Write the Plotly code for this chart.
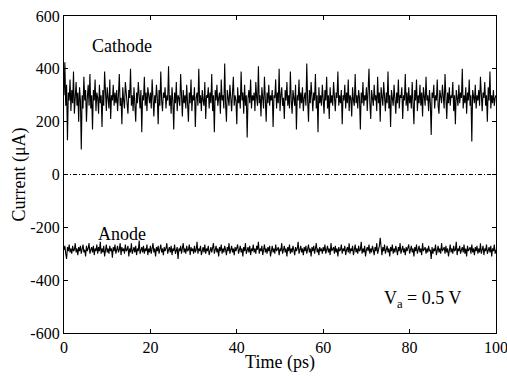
import plotly.graph_objects as go

cathode = [
    300, 425, 260, 340, 130, 310, 280, 360, 240, 320, 270, 390, 230, 300, 350, 260, 310, 200, 330, 280,
    95, 300, 250, 370, 280, 320, 200, 290, 340, 260, 380, 250, 300, 170, 320, 280, 360, 240, 310, 290,
    230, 340, 270, 300, 180, 320, 260, 390, 280, 240, 330, 290, 250, 360, 210, 300, 280, 340, 260, 310,
    270, 320, 240, 300, 380, 260, 290, 190, 330, 280, 250, 350, 300, 270, 230, 320, 290, 400, 260, 300,
    240, 330, 280, 200, 310, 270, 350, 290, 250, 320, 160, 300, 280, 370, 260, 310, 240, 330, 290, 270,
    310, 250, 360, 280, 220, 300, 270, 340, 290, 190, 320, 260, 390, 280, 240, 310, 290, 330, 250, 300,
    280, 410, 260, 300, 230, 330, 280, 170, 310, 270, 350, 240, 300, 290, 260, 380, 280, 220, 320, 270,
    300, 250, 340, 290, 200, 310, 270, 360, 240, 300, 280, 330, 180, 290, 310, 260, 400, 270, 300, 240,
    320, 280, 260, 350, 210, 300, 290, 330, 250, 310, 270, 380, 240, 300, 160, 320, 280, 340, 260, 290,
    310, 230, 360, 280, 300, 250, 420, 270, 200, 320, 290, 260, 340, 280, 240, 310, 370, 260, 300, 280,
    190, 330, 270, 300, 250, 390, 280, 310, 230, 340, 260, 300, 140, 290, 320, 270, 360, 250, 300, 280,
    310, 240, 350, 290, 260, 410, 270, 300, 220, 330, 280, 250, 370, 290, 200, 310, 270, 340, 260, 300,
    280, 320, 180, 300, 290, 360, 250, 310, 270, 400, 240, 300, 330, 260, 290, 210, 320, 280, 350, 260,
    300, 250, 390, 280, 230, 320, 290, 260, 340, 170, 300, 280, 360, 250, 310, 270, 330, 240, 290, 310,
    260, 420, 280, 200, 320, 270, 350, 290, 240, 310, 280, 380, 250, 300, 160, 330, 270, 300, 260, 340,
    290, 230, 320, 280, 370, 250, 300, 210, 330, 270, 300, 260, 350, 280, 240, 310, 290, 390, 260, 300,
    270, 320, 190, 300, 280, 340, 250, 310, 270, 360, 240, 300, 290, 220, 330, 280, 260, 380, 270, 300,
    250, 320, 290, 170, 310, 270, 350, 260, 300, 280, 330, 240, 300, 400, 270, 210, 320, 290, 260, 340,
    280, 300, 240, 370, 270, 310, 200, 330, 280, 260, 350, 290, 240, 310, 270, 390, 250, 300, 180, 320,
    290, 260, 340, 280, 230, 310, 270, 360, 250, 300, 290, 330, 210, 300, 280, 380, 260, 310, 240, 330,
    270, 300, 250, 350, 290, 190, 320, 280, 360, 240, 300, 270, 340, 260, 310, 220, 330, 290, 260, 370,
    280, 300, 240, 320, 270, 150, 310, 290, 340, 250, 300, 280, 360, 260, 230, 320, 290, 270, 340, 300,
    250, 380, 280, 210, 310, 270, 330, 260, 300, 290, 350, 240, 300, 190, 320, 280, 260, 340, 270, 310,
    290, 400, 250, 300, 270, 330, 230, 310, 280, 360, 260, 300, 125, 320, 290, 270, 340, 250, 300, 280,
    320, 260, 370, 280, 240, 310, 290, 350, 260, 300, 200, 330, 280, 390, 250, 300, 270, 320, 260, 290,
    300,
]

anode = [
    -285, -270, -300, -320, -275, -290, -265, -295, -280, -300, -270, -290, -285, -260, -295, -280, -305, -275, -290, -270,
    -300, -280, -265, -295, -285, -310, -270, -290, -280, -260, -300, -285, -275, -295, -270, -305, -280, -290, -265, -300,
    -275, -290, -255, -300, -280, -295, -270, -310, -285, -265, -295, -280, -300, -270, -290, -280, -315, -275, -290, -265,
    -300, -280, -270, -295, -285, -260, -305, -275, -290, -280, -300, -265, -290, -285, -270, -310, -280, -295, -260, -300,
    -285, -275, -295, -270, -305, -280, -290, -250, -300, -285, -275, -295, -270, -300, -280, -290, -265, -305, -280, -295,
    -270, -300, -285, -260, -295, -280, -310, -275, -290, -270, -300, -285, -265, -295, -280, -305, -275, -290, -280, -260,
    -300, -285, -275, -295, -270, -305, -280, -290, -265, -300, -285, -275, -320, -280, -290, -270, -300, -285, -260, -295,
    -280, -300, -270, -290, -285, -265, -305, -275, -290, -280, -300, -270, -295, -285, -255, -300, -280, -290, -270, -305,
    -285, -275, -295, -265, -300, -280, -290, -270, -305, -285, -275, -295, -280, -260, -300, -285, -270, -295, -280, -310,
    -275, -290, -265, -300, -280, -295, -270, -285, -305, -275, -290, -260, -300, -285, -270, -295, -280, -305, -275, -290,
    -280, -265, -300, -285, -270, -295, -280, -310, -275, -290, -260, -300, -285, -275, -295, -270, -305, -280, -290, -265,
    -295, -280, -300, -270, -285, -255, -300, -280, -290, -270, -305, -285, -265, -295, -280, -300, -275, -290, -270, -310,
    -285, -270, -295, -280, -300, -265, -290, -285, -275, -305, -280, -290, -260, -300, -285, -270, -295, -280, -310, -275,
    -290, -265, -300, -280, -295, -270, -285, -305, -275, -290, -280, -255, -300, -285, -270, -295, -280, -305, -275, -290,
    -270, -300, -285, -265, -295, -280, -310, -275, -290, -270, -300, -285, -260, -295, -280, -305, -275, -290, -280, -300,
    -275, -290, -265, -300, -285, -270, -295, -280, -305, -260, -290, -285, -275, -300, -270, -295, -280, -310, -275, -290,
    -285, -265, -300, -280, -290, -270, -305, -285, -275, -295, -260, -300, -280, -290, -270, -305, -285, -265, -295, -280,
    -300, -270, -290, -285, -255, -300, -280, -295, -270, -310, -285, -275, -290, -265, -300, -280, -295, -270, -285, -305,
    -275, -290, -260, -300, -285, -270, -240, -280, -305, -275, -290, -265, -300, -285, -270, -295, -280, -310, -275, -290,
    -265, -300, -280, -295, -270, -285, -305, -275, -290, -260, -300, -285, -270, -295, -280, -305, -275, -290, -280, -265,
    -300, -285, -270, -295, -280, -310, -275, -290, -265, -300, -285, -270, -295, -280, -305, -260, -290, -285, -275, -300,
    -280, -295, -270, -290, -285, -320, -275, -300, -280, -290, -265, -305, -285, -270, -295, -280, -300, -260, -290, -285,
    -275, -300, -270, -295, -280, -310, -285, -265, -295, -280, -300, -270, -290, -285, -255, -305, -280, -290, -270, -300,
    -285, -275, -295, -265, -300, -280, -310, -270, -290, -285, -275, -300, -265, -295, -280, -305, -275, -290, -270, -300,
    -280, -295, -260, -300, -285, -270, -305, -280, -290, -265, -300, -285, -275, -295, -270, -310, -280, -290, -265, -300,
    -285,
]

time = [i * 0.2 for i in range(len(cathode))]
zero_line_x = [0, 100]
zero_line_y = [0, 0]

x_ticks = [0, 20, 40, 60, 80, 100]
x_tick_labels = ["0", "20", "40", "60", "80", "100"]
y_ticks = [-600, -400, -200, 0, 200, 400, 600]
y_tick_labels = ["-600", "-400", "-200", "0", "200", "400", "600"]

FONT = "Liberation Serif, Times New Roman, serif"

fig = go.Figure()
fig.add_trace(go.Scatter(x=time, y=cathode, mode="lines",
                         line=dict(color="black", width=1.1), showlegend=False))
fig.add_trace(go.Scatter(x=time, y=anode, mode="lines",
                         line=dict(color="black", width=1.1), showlegend=False))
fig.add_trace(go.Scatter(x=zero_line_x, y=zero_line_y, mode="lines",
                         line=dict(color="black", width=1, dash="4px,2px,1px,2px"),
                         showlegend=False))

axis_common = dict(showgrid=False, zeroline=False, showline=True, linecolor="black",
                   linewidth=1.2, mirror="allticks", ticks="inside", ticklen=4,
                   tickcolor="black", automargin=False, ticklabeloverflow="allow",
                   tickfont=dict(family=FONT, size=16, color="black"))

fig.update_xaxes(range=[0, 100], tickvals=x_ticks, ticktext=x_tick_labels,
                 title=dict(text="Time (ps)", font=dict(family=FONT, size=18, color="black"),
                            standoff=0),
                 **axis_common)
fig.update_yaxes(range=[-600, 600], tickvals=y_ticks, ticktext=y_tick_labels,
                 title=dict(text="Current (μA)", font=dict(family=FONT, size=18, color="black"),
                            standoff=0),
                 **axis_common)

fig.add_annotation(x=6, y=485, text="Cathode", showarrow=False, xanchor="left",
                   font=dict(family=FONT, size=18, color="black"))
fig.add_annotation(x=7.5, y=-225, text="Anode", showarrow=False, xanchor="left",
                   font=dict(family=FONT, size=18, color="black"))
fig.add_annotation(x=73.5, y=-475, text="V<sub>a</sub> = 0.5 V", showarrow=False,
                   xanchor="left", font=dict(family=FONT, size=18, color="black"))

fig.update_layout(width=507, height=376, paper_bgcolor="white", plot_bgcolor="white",
                  margin=dict(l=64, r=11, t=16, b=43), font=dict(family=FONT, color="black"))

fig.write_html("out.html", config={"displayModeBar": False},
               post_script="document.body.style.margin='0';document.body.style.overflow='hidden';")
